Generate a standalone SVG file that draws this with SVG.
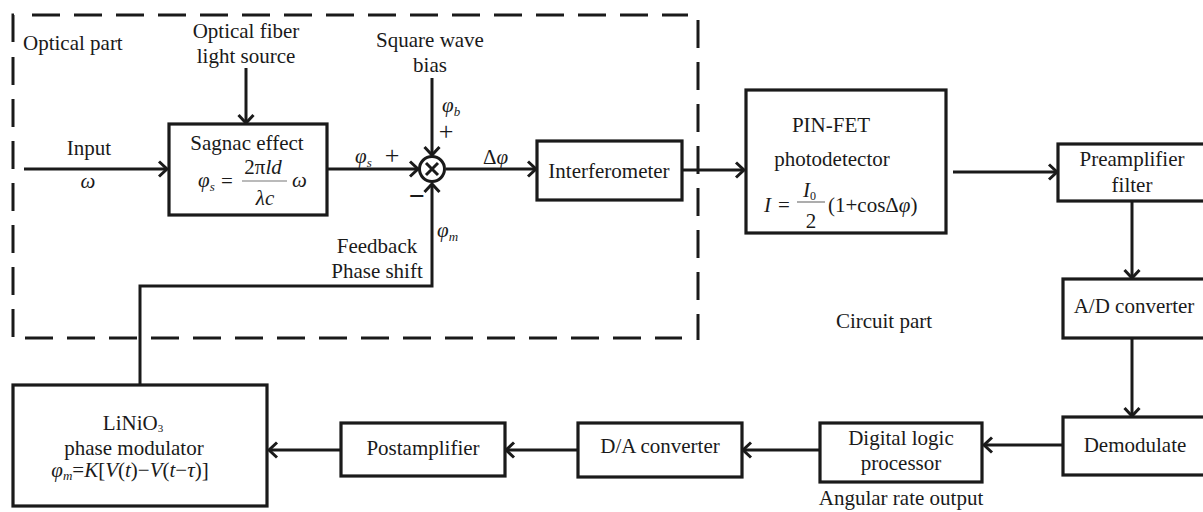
<svg xmlns="http://www.w3.org/2000/svg" width="1203" height="512" viewBox="0 0 1203 512">
<defs>
<marker id="arr" markerUnits="userSpaceOnUse" markerWidth="20" markerHeight="20" viewBox="-12 -10 14 20" refX="0" refY="0" orient="auto">
<path d="M -8 -7.5 L 0 0 L -8 7.5" fill="none" stroke="#1a1a1a" stroke-width="3"/>
</marker>
</defs>
<style>
text{font-family:"Liberation Serif",Tinos,"Times New Roman","DejaVu Serif",serif;font-size:21px;fill:#1a1a1a}
.c{text-anchor:middle}
.i{font-style:italic}
.sub{font-size:13px}
.box{fill:#fff;stroke:#1a1a1a;stroke-width:3.2}
.ln{fill:none;stroke:#1a1a1a;stroke-width:3}
.dash{fill:none;stroke:#1a1a1a;stroke-width:3;stroke-dasharray:28 14}
.frac{stroke:#777;stroke-width:1.2}
</style>

<g id="optical-region">
<path class="dash" d="M 13 42 L 13 15 L 18 15"/>
<path class="dash" d="M 32 15 L 688 15"/>
<path class="dash" d="M 13 57 L 13 338"/>
<path class="dash" d="M 25 338 L 682 338"/>
<path class="dash" d="M 698 20 L 698 340"/>
<text x="23" y="50">Optical part</text>
</g>

<g id="connectors">
<line class="ln" x1="24" y1="169" x2="167" y2="169" marker-end="url(#arr)"/>
<line class="ln" x1="246" y1="68" x2="246" y2="123" marker-end="url(#arr)"/>
<line class="ln" x1="327" y1="169" x2="418" y2="169" marker-end="url(#arr)"/>
<line class="ln" x1="432" y1="78" x2="432" y2="155" marker-end="url(#arr)"/>
<polyline class="ln" points="140,385 140,286 432,286 432,184" marker-end="url(#arr)"/>
<line class="ln" x1="446" y1="169" x2="536" y2="169" marker-end="url(#arr)"/>
<line class="ln" x1="682" y1="170" x2="744" y2="170" marker-end="url(#arr)"/>
<line class="ln" x1="953" y1="172" x2="1057" y2="172" marker-end="url(#arr)"/>
<line class="ln" x1="1132" y1="201" x2="1132" y2="278" marker-end="url(#arr)"/>
<line class="ln" x1="1132" y1="338" x2="1132" y2="416" marker-end="url(#arr)"/>
<line class="ln" x1="1062" y1="445" x2="984" y2="445" marker-end="url(#arr)"/>
<line class="ln" x1="820" y1="450" x2="743" y2="450" marker-end="url(#arr)"/>
<line class="ln" x1="578" y1="450" x2="506" y2="450" marker-end="url(#arr)"/>
<line class="ln" x1="341" y1="450" x2="269" y2="450" marker-end="url(#arr)"/>
</g>

<g id="labels">
<text class="c" x="89" y="155">Input</text>
<text class="c i" x="88" y="188">ω</text>
<text class="c" x="246" y="38">Optical fiber</text>
<text class="c" x="246" y="63">light source</text>
<text class="c" x="430" y="47">Square wave</text>
<text class="c" x="430" y="72">bias</text>
<text x="355" y="163"><tspan class="i">φ</tspan><tspan class="sub i" dy="4">s</tspan></text>
<text class="c" x="392" y="164" style="font-size:26px">+</text>
<text x="442" y="112"><tspan class="i">φ</tspan><tspan class="sub i" dy="4">b</tspan></text>
<text class="c" x="446" y="140" style="font-size:26px">+</text>
<text class="c" x="417" y="205" style="font-size:28px;font-weight:bold">−</text>
<text x="437" y="237"><tspan class="i">φ</tspan><tspan class="sub i" dy="4">m</tspan></text>
<text class="c" x="377" y="253">Feedback</text>
<text class="c" x="377" y="278">Phase shift</text>
<text x="483" y="164">Δ<tspan class="i">φ</tspan></text>
<text class="c" x="884" y="328">Circuit part</text>
<text class="c" x="901" y="505">Angular rate output</text>
</g>

<g id="sagnac">
<rect class="box" x="169" y="124" width="158" height="91"/>
<text class="c" x="247" y="150">Sagnac effect</text>
<text x="198" y="187"><tspan class="i">φ</tspan><tspan class="sub i" dy="4">s</tspan></text>
<text x="221" y="188">=</text>
<text class="c" x="263" y="174">2π<tspan class="i">ld</tspan></text>
<line class="frac" x1="242" y1="181" x2="287" y2="181"/>
<text class="c i" x="265" y="205">λc</text>
<text class="i" x="292" y="187">ω</text>
</g>

<g id="summing-junction">
<circle cx="432" cy="169" r="12.5" fill="#fff" stroke="#1a1a1a" stroke-width="3"/>
<path d="M 426 163 L 438 175 M 438 163 L 426 175" stroke="#1a1a1a" stroke-width="3"/>
</g>

<g id="interferometer">
<rect class="box" x="537" y="141" width="145" height="59"/>
<text class="c" x="609" y="178">Interferometer</text>
</g>

<g id="photodetector">
<rect class="box" x="746" y="90" width="200" height="143"/>
<text class="c" x="831" y="132">PIN-FET</text>
<text class="c" x="832" y="166">photodetector</text>
<text class="i" x="764" y="212">I</text>
<text x="778" y="212">=</text>
<text x="803" y="197"><tspan class="i">I</tspan><tspan style="font-size:12px" dy="3">0</tspan></text>
<line class="frac" x1="797" y1="202" x2="825" y2="202"/>
<text class="c" x="811" y="228">2</text>
<text x="828" y="212">(1+cosΔ<tspan class="i">φ</tspan>)</text>
</g>

<g id="preamplifier">
<rect class="box" x="1058" y="144" width="152" height="57"/>
<text class="c" x="1132" y="166">Preamplifier</text>
<text class="c" x="1132" y="192">filter</text>
</g>

<g id="ad-converter">
<rect class="box" x="1063" y="279" width="147" height="59"/>
<text class="c" x="1134" y="313">A/D converter</text>
</g>

<g id="demodulate">
<rect class="box" x="1063" y="417" width="147" height="58"/>
<text class="c" x="1135" y="452">Demodulate</text>
</g>

<g id="digital-logic">
<rect class="box" x="820" y="423" width="162" height="59"/>
<text class="c" x="901" y="445">Digital logic</text>
<text class="c" x="901" y="470">processor</text>
</g>

<g id="da-converter">
<rect class="box" x="578" y="423" width="164" height="54"/>
<text class="c" x="660" y="453">D/A converter</text>
</g>

<g id="postamplifier">
<rect class="box" x="341" y="423" width="164" height="53"/>
<text class="c" x="423" y="455">Postamplifier</text>
</g>

<g id="phase-modulator">
<rect class="box" x="13" y="385" width="254" height="121"/>
<text class="c" x="133" y="430">LiNiO<tspan style="font-size:11px" dy="2">3</tspan></text>
<text class="c" x="134" y="455">phase modulator</text>
<text class="c" x="130" y="477"><tspan class="i">φ</tspan><tspan class="sub i" dy="3">m</tspan><tspan dy="-3">=</tspan><tspan class="i">K</tspan>[<tspan class="i">V</tspan>(<tspan class="i">t</tspan>)−<tspan class="i">V</tspan>(<tspan class="i">t</tspan>−<tspan class="i">τ</tspan>)]</text>
</g>
</svg>
